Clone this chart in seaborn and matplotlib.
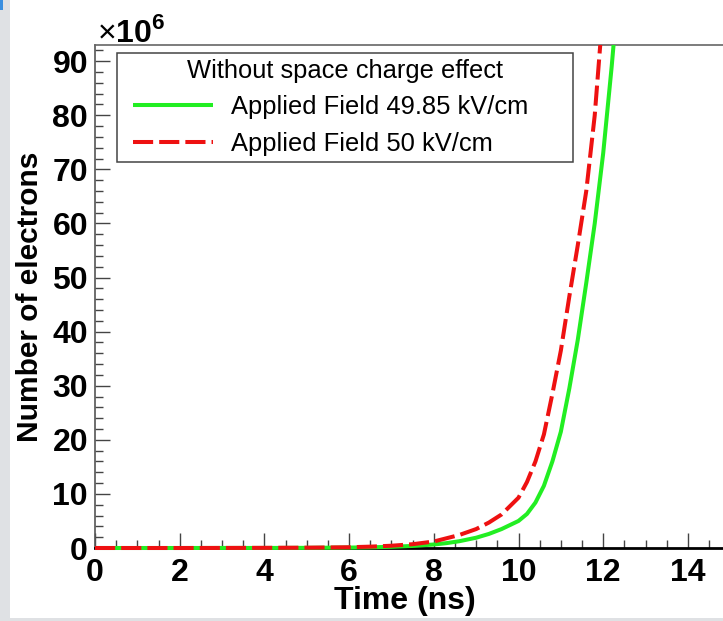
import matplotlib
matplotlib.use("Agg")
import matplotlib.pyplot as plt
import numpy as np
import pandas as pd
import seaborn as sns
from matplotlib.lines import Line2D
from matplotlib.legend_handler import HandlerLine2D
from matplotlib.patches import Rectangle
from matplotlib.ticker import MultipleLocator
from matplotlib.transforms import Bbox, TransformedBbox

# Avalanche growth (number of electrons, in units of 1e6) versus drift time
time_ns = [0, 1, 2, 3, 4, 5, 6, 6.5, 7, 7.5, 8, 8.3, 8.6, 9.0, 9.3, 9.6,
           10.0, 10.2, 10.4, 10.6, 10.8, 11.0, 11.2, 11.4, 11.6, 11.8,
           12.0, 12.2, 12.4]
electrons_4985 = [0.0, 0.0, 0.0, 0.01, 0.01, 0.03, 0.08, 0.13, 0.22, 0.38,
                  0.65, 0.9, 1.25, 1.9, 2.6, 3.5, 5.0, 6.3, 8.4, 11.5, 16.0,
                  21.5, 29.5, 38.5, 49.0, 60.0, 73.0, 89.0, 107.0]
electrons_50 = [0.0, 0.0, 0.0, 0.01, 0.03, 0.06, 0.14, 0.25, 0.42, 0.7,
                1.2, 1.8, 2.4, 3.5, 4.7, 6.2, 9.3, 12.2, 16.0, 21.0, 28.5,
                36.5, 46.5, 56.0, 66.0, 80.0, 100.0, 125.0, 150.0]

field_labels = ["Applied Field 49.85 kV/cm", "Applied Field 50 kV/cm"]
legend_title = "Without space charge effect"
x_ticks = [0, 2, 4, 6, 8, 10, 12, 14]
y_ticks = [0, 10, 20, 30, 40, 50, 60, 70, 80, 90]

df = pd.concat([
    pd.DataFrame({"time": time_ns, "electrons": electrons_4985, "field": field_labels[0]}),
    pd.DataFrame({"time": time_ns, "electrons": electrons_50, "field": field_labels[1]}),
], ignore_index=True)

sns.set_theme(style="ticks")
plt.rcParams["font.family"] = ["Liberation Sans", "DejaVu Sans"]
plt.rcParams["mathtext.fontset"] = "custom"
plt.rcParams["mathtext.rm"] = "Liberation Sans"
plt.rcParams["mathtext.bf"] = "Liberation Sans:bold"
plt.rcParams["text.color"] = "black"

W, H = 723, 621
fig = plt.figure(figsize=(W / 100, H / 100), dpi=100)
fig.patch.set_facecolor("white")

# frame geometry in pixels
left_px, bottom_px, top_px = 95, 548, 45
ax = fig.add_axes([left_px / W, (H - bottom_px) / H, (W - left_px) / W,
                   (bottom_px - top_px) / H])

green = "#22ee22"
red = "#ee1111"
sns.lineplot(data=df, x="time", y="electrons", hue="field", style="field",
             hue_order=field_labels, style_order=field_labels,
             palette={field_labels[0]: green, field_labels[1]: red},
             dashes={field_labels[0]: "", field_labels[1]: (5, 1.5)},
             linewidth=2.9, errorbar=None, legend=False, ax=ax)

clip = TransformedBbox(Bbox([[0, -0.012], [1, 1]]), ax.transAxes)
for ln in ax.get_lines():
    ln.set_clip_box(clip)
    ln.set_zorder(3)
    ln.set_solid_capstyle("butt")
    ln.set_dash_capstyle("butt")

ax.set_xlim(0, (W - left_px) / 42.35)
ax.set_ylim(0, 93)
ax.set_xticks(x_ticks)
ax.set_yticks(y_ticks)
ax.xaxis.set_minor_locator(MultipleLocator(0.5))
ax.yaxis.set_minor_locator(MultipleLocator(2))
ax.tick_params(which="major", direction="in", length=10.8, width=1.0,
               color="#444444", labelsize=23, top=False, right=False)
ax.tick_params(which="minor", direction="in", length=5.8, width=1.0,
               color="#444444", top=False, right=False)
ax.tick_params(axis="x", pad=7)
ax.tick_params(axis="y", pad=5)
for lab in ax.get_xticklabels() + ax.get_yticklabels():
    lab.set_fontweight("bold")
    lab.set_color("black")

ax.spines["right"].set_visible(False)
ax.spines["top"].set_color("#666666")
ax.spines["top"].set_linewidth(1.2)
ax.spines["left"].set_color("#555555")
ax.spines["left"].set_linewidth(1.2)
ax.spines["bottom"].set_color("black")
ax.spines["bottom"].set_linewidth(2.0)

ax.set_xlabel("Time (ns)", fontsize=23, fontweight="bold", color="black")
ax.xaxis.set_label_coords((405 - left_px) / (W - left_px), -(601 - bottom_px) / (bottom_px - top_px))
ax.xaxis.label.set_verticalalignment("center")
ax.set_ylabel("Number of electrons", fontsize=21.5, fontweight="bold", color="black")
ax.yaxis.set_label_coords(-(left_px - 30) / (W - left_px), 0.5)
ax.yaxis.label.set_verticalalignment("center")

fig.text(97 / W, (H - 42) / H, r"$\times\mathbf{10}^{\mathbf{6}}$", fontsize=23,
         ha="left", va="baseline", color="black")

handles = ax.get_lines()[:2]
leg_x0 = (117 - left_px) / (W - left_px)
leg_w = (573 - 117) / (W - left_px)
leg_top = (bottom_px - 52.7) / (bottom_px - top_px)
leg = ax.legend(handles, field_labels, title=legend_title, loc="upper left",
                bbox_to_anchor=(leg_x0, 0.0, leg_w, leg_top), mode="expand",
                borderaxespad=0, fontsize=18.4, title_fontsize=18.4,
                frameon=True, fancybox=False, framealpha=1, edgecolor="#444444",
                handlelength=3.51, handletextpad=0.69, borderpad=0.25,
                labelspacing=0.48, labelcolor="black",
                handler_map={Line2D: HandlerLine2D(xpad=0.376)})
leg.get_title().set_color("black")
leg.get_frame().set_linewidth(1.1)
leg.set_zorder(5)

# page edge strips
fig.patches.append(Rectangle((0, 0), 10 / W, 1, transform=fig.transFigure,
                             facecolor="#dfe1e4", edgecolor="none", zorder=-1))
fig.patches.append(Rectangle((0, 0), 1, 3 / H, transform=fig.transFigure,
                             facecolor="#dfe1e4", edgecolor="none", zorder=-1))
fig.patches.append(Rectangle((0, (H - 10) / H), 3 / W, 10 / H, transform=fig.transFigure,
                             facecolor="#3a8fe0", edgecolor="none", zorder=-1))

fig.savefig("out.png", dpi=100)
